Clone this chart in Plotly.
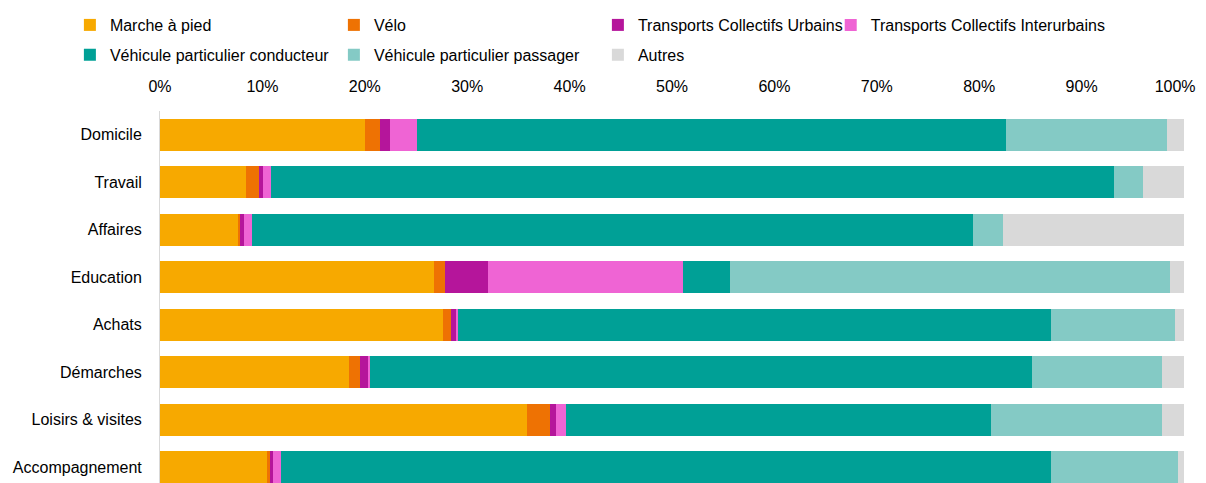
import plotly.graph_objects as go

# Parts modales par motif de déplacement (%)
motifs = ['Domicile', 'Travail', 'Affaires', 'Education', 'Achats',
          'Démarches', 'Loisirs & visites', 'Accompagnement']

marche = [20.0, 8.4, 7.6, 26.8, 27.65, 18.45, 35.85, 10.45]
velo = [1.5, 1.25, 0.2, 1.0, 0.75, 1.05, 2.2, 0.25]
tc_urbains = [0.95, 0.4, 0.45, 4.2, 0.5, 0.9, 0.6, 0.35]
tc_interurbains = [2.6, 0.75, 0.75, 19.05, 0.2, 0.1, 1.0, 0.75]
vp_conducteur = [57.6, 82.35, 70.35, 4.6, 57.95, 64.65, 41.5, 75.2]
vp_passager = [15.7, 2.8, 2.95, 43.0, 12.05, 12.7, 16.7, 12.4]
autres = [1.65, 4.05, 17.7, 1.35, 0.9, 2.15, 2.15, 0.6]

tick_vals = [0, 10, 20, 30, 40, 50, 60, 70, 80, 90, 100]
tick_labels = ['0%', '10%', '20%', '30%', '40%', '50%', '60%', '70%', '80%', '90%', '100%']

# (nom, valeurs, couleur, légende) : une légende par ligne, la 4e entrée à part
series = [
    ('Marche à pied', marche, '#F7A900', 'legend'),
    ('Vélo', velo, '#EE7203', 'legend'),
    ('Transports Collectifs Urbains', tc_urbains, '#B5159B', 'legend'),
    ('Transports Collectifs Interurbains', tc_interurbains, '#EF64D4', 'legend3'),
    ('Véhicule particulier conducteur', vp_conducteur, '#00A096', 'legend2'),
    ('Véhicule particulier passager', vp_passager, '#84CAC5', 'legend2'),
    ('Autres', autres, '#D9D9D9', 'legend2'),
]

fig = go.Figure()
for name, vals, color, leg in series:
    fig.add_trace(go.Bar(
        y=motifs, x=vals, name=name, orientation='h',
        marker=dict(color=color, line=dict(width=0)),
        legend=leg,
        hovertemplate='%{y}<br>' + name + ': %{x:.1f}%<extra></extra>'
    ))

legend_style = dict(
    orientation='h',
    xanchor='left', x=-0.088,
    yanchor='middle',
    entrywidth=219,
    font=dict(size=16, color='#000000'),
    bgcolor='rgba(0,0,0,0)',
    traceorder='normal',
)

# le dernier libellé déborde du bord droit : on le décale un peu avec des espaces insécables
tick_text = tick_labels[:-1] + [tick_labels[-1] + '\u00a0' * 4]

# la page html ajoute une marge de 8px autour du graphique
fig.update_layout(
    barmode='stack',
    bargap=0.33,
    width=1198, height=475,
    margin=dict(l=152, r=22, t=99, b=0),
    plot_bgcolor='white', paper_bgcolor='white',
    font=dict(family='Liberation Sans, Arial, sans-serif', size=16, color='#000000'),
    legend=dict(legend_style, y=1.232),
    legend2=dict(legend_style, y=1.151),
    legend3=dict(legend_style, y=1.232, x=0.655, entrywidth=None),
    xaxis=dict(
        side='top', range=[0, 100],
        tickvals=tick_vals, ticktext=tick_text,
        showgrid=False, zeroline=False, showline=False,
        ticklabelstandoff=15, ticklabeloverflow='allow',
        fixedrange=True, automargin=False,
    ),
    yaxis=dict(
        range=[7.333, -0.5], showgrid=False, zeroline=False,
        showline=True, linecolor='#D9D9D9', linewidth=1,
        ticklabelstandoff=14, fixedrange=True, automargin=False,
    ),
)

fig.write_html("out.html")
